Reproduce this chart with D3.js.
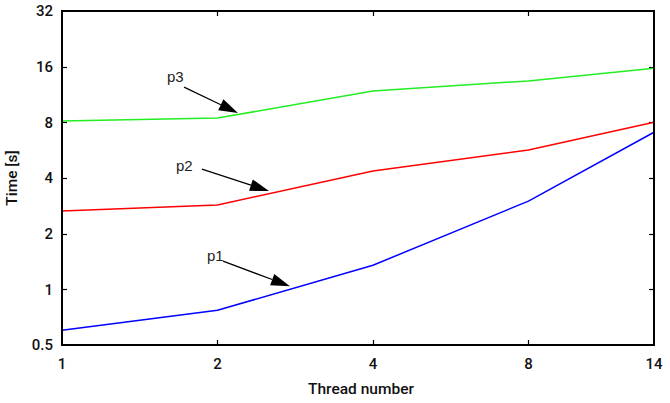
<!DOCTYPE html>
<html>
<head>
<meta charset="utf-8">
<script src="https://cdn.jsdelivr.net/npm/d3@7"></script>
<style>
  body { margin: 0; background: #fff; }
  svg { display: block; }
  .tick-label { font-family: Roboto, "Liberation Sans", sans-serif; font-weight: 500; font-size: 15px; fill: #111; }
  .axis-title { font-family: Roboto, "Liberation Sans", sans-serif; font-weight: 500; font-size: 15.5px; fill: #111; }
  .note { font-family: "Liberation Sans", Arial, sans-serif; font-size: 15px; fill: #222; }
</style>
</head>
<body>
<svg id="chart" width="670" height="403"></svg>
<script>
// data
const threads = [1, 2, 4, 8, 14];
const p1 = [0.60, 0.77, 1.35, 3.0, 7.07];
const p2 = [2.65, 2.86, 4.37, 5.67, 8.0];
const p3 = [8.13, 8.44, 11.8, 13.4, 15.7];
const yTicks = [0.5, 1, 2, 4, 8, 16, 32];
const xTicks = [1, 2, 4, 8, 14];

// label + arrow, in data units: [text, labelX, labelY, fromX, fromY, toX, toY]
const notes = [
  ["p3", 1.597, 13.2, 1.723, 12.4, 2.191, 8.99],
  ["p2", 1.662, 4.36, 1.866, 4.47, 2.516, 3.40],
  ["p1", 1.909, 1.42, 2.050, 1.42, 2.763, 1.04]
];

const plotLeft = 62, plotRight = 654, plotTop = 11, plotBottom = 345;

let svg = d3.select("#chart");

let xScale = d3.scaleLog().base(2).domain([1, 14]).range([plotLeft, plotRight]);
let yScale = d3.scaleLog().base(2).domain([0.5, 32]).range([plotBottom, plotTop]);

// ticks, mirrored on all sides, pointing inwards
let tickLen = 5;
let tg = svg.append("g").attr("stroke", "#000").attr("stroke-width", 1.2);
yTicks.slice(1, -1).forEach(function(d) {
    let y = Math.round(yScale(d)) + 0.5;
    tg.append("line").attr("x1", plotLeft).attr("x2", plotLeft + tickLen).attr("y1", y).attr("y2", y);
    tg.append("line").attr("x1", plotRight).attr("x2", plotRight - tickLen).attr("y1", y).attr("y2", y);
});
xTicks.slice(1, -1).forEach(function(d) {
    let x = Math.round(xScale(d)) + 0.5;
    tg.append("line").attr("x1", x).attr("x2", x).attr("y1", plotBottom).attr("y2", plotBottom - tickLen);
    tg.append("line").attr("x1", x).attr("x2", x).attr("y1", plotTop).attr("y2", plotTop + tickLen);
});

// tick labels
yTicks.forEach(function(d) {
    svg.append("text").attr("class", "tick-label")
        .attr("x", plotLeft - 9).attr("y", yScale(d))
        .attr("dy", "0.36em")
        .attr("text-anchor", "end")
        .text(d);
});
xTicks.forEach(function(d) {
    svg.append("text").attr("class", "tick-label")
        .attr("x", xScale(d)).attr("y", 369)
        .attr("text-anchor", "middle")
        .text(d);
});

// axis titles
svg.append("text").attr("class", "axis-title")
    .attr("x", 361).attr("y", 394)
    .attr("text-anchor", "middle")
    .text("Thread number");
svg.append("text").attr("class", "axis-title")
    .attr("transform", "translate(17," + 178 + ") rotate(-90)")
    .attr("text-anchor", "middle")
    .text("Time [s]");

// series
let line = d3.line()
    .x(function(d) { return xScale(d[0]); })
    .y(function(d) { return yScale(d[1]); });

let series = [[p1, "#0000ff"], [p2, "#ff0000"], [p3, "#22ee22"]];
series.forEach(function(s) {
    svg.append("path")
        .datum(threads.map(function(t, i) { return [t, s[0][i]]; }))
        .attr("d", line)
        .attr("fill", "none")
        .attr("stroke", s[1])
        .attr("stroke-width", 1.5);
});

// frame
svg.append("rect")
    .attr("x", plotLeft).attr("y", plotTop)
    .attr("width", plotRight - plotLeft).attr("height", plotBottom - plotTop)
    .attr("fill", "none").attr("stroke", "#000").attr("stroke-width", 2);

// annotations with filled arrow heads
let headLen = 19, headHalf = 6;
notes.forEach(function(n) {
    svg.append("text").attr("class", "note")
        .attr("x", xScale(n[1])).attr("y", yScale(n[2]))
        .text(n[0]);
    let x1 = xScale(n[3]), y1 = yScale(n[4]);
    let x2 = xScale(n[5]), y2 = yScale(n[6]);
    let a = Math.atan2(y2 - y1, x2 - x1);
    let bx = x2 - headLen * Math.cos(a), by = y2 - headLen * Math.sin(a);
    svg.append("line")
        .attr("x1", x1).attr("y1", y1).attr("x2", bx).attr("y2", by)
        .attr("stroke", "#000").attr("stroke-width", 1.2);
    let pts = [
        [x2, y2],
        [bx + headHalf * Math.sin(a), by - headHalf * Math.cos(a)],
        [bx - headHalf * Math.sin(a), by + headHalf * Math.cos(a)]
    ];
    svg.append("polygon")
        .attr("points", pts.map(function(p) { return p.join(","); }).join(" "))
        .attr("fill", "#000");
});
</script>
</body>
</html>
